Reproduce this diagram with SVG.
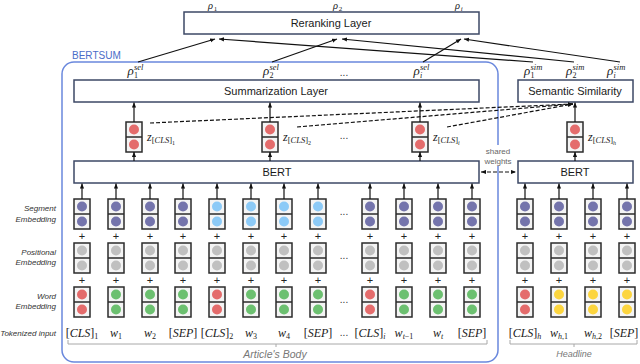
<svg xmlns="http://www.w3.org/2000/svg" width="640" height="364" viewBox="0 0 640 364">
<style>
.box{fill:#fff;stroke:#3d4866;stroke-width:1.5}
.lbl{font-family:"Liberation Sans",Arial,sans-serif;font-size:11px;fill:#1a1a1a;text-anchor:middle}
.side{font-family:"Liberation Sans",Arial,sans-serif;font-size:8px;font-style:italic;fill:#333;text-anchor:end}
.m{font-family:"Liberation Serif","Times New Roman",serif;font-style:italic;fill:#1a1a1a}
.u{font-style:normal}
.tok{font-size:12px;text-anchor:middle}
.ln{stroke:#111;stroke-width:1.2;fill:none}
.dash{stroke:#111;stroke-width:1.2;stroke-dasharray:4 2;fill:none}
.plus{font-family:"Liberation Sans",Arial,sans-serif;font-size:11px;fill:#222;text-anchor:middle}
.dots{font-family:"Liberation Sans",Arial,sans-serif;font-size:10px;fill:#333;text-anchor:middle}
.brace{stroke:#a8a8a8;stroke-width:1;fill:none}
.cap{font-family:"Liberation Sans",Arial,sans-serif;font-style:italic;fill:#777;text-anchor:middle}
</style>
<defs>
<marker id="ah" viewBox="0 0 6 6" refX="6" refY="3" markerWidth="5" markerHeight="5" orient="auto-start-reverse" markerUnits="userSpaceOnUse"><path d="M0,0.5 L6,3 L0,5.5 z" fill="#111"/></marker>
<g id="emb"><rect x="-8" y="0" width="16" height="30" fill="#f4f4f4" stroke="#2b2b2b" stroke-width="1.5"/><line x1="-8" y1="15" x2="8" y2="15" stroke="#2b2b2b" stroke-width="1.5"/><circle cx="0" cy="7.5" r="5"/><circle cx="0" cy="22.5" r="5"/></g>
</defs>
<rect width="640" height="364" fill="#fff"/>

<g id="bertsum">
<rect x="62" y="62" width="436" height="300" rx="12" fill="none" stroke="#6a88dd" stroke-width="1.5"/>
<text x="72" y="59" font-family="Liberation Sans, Arial, sans-serif" font-size="10" fill="#4a6cc8">BERTSUM</text>
</g>

<g id="reranking"><rect class="box" x="184" y="12" width="295" height="22"/><text class="lbl" x="331" y="27">Reranking Layer</text></g>
<g id="summarization"><rect class="box" x="74" y="80" width="405" height="22"/><text class="lbl" x="276" y="95">Summarization Layer</text></g>
<g id="semsim"><rect class="box" x="518" y="80" width="115" height="22"/><text class="lbl" x="575" y="95">Semantic Similarity</text></g>
<g id="bert"><rect class="box" x="74" y="161" width="405" height="22"/><text class="lbl" x="277" y="176">BERT</text></g>
<g id="bert-h"><rect class="box" x="518" y="161" width="115" height="22"/><text class="lbl" x="575" y="176">BERT</text></g>

<g id="shared-weights">
<rect x="484" y="145" width="29" height="21" fill="#fff"/>
<text x="498" y="154" font-family="Liberation Sans, Arial, sans-serif" font-size="8" fill="#666" text-anchor="middle">shared</text>
<text x="498" y="164" font-family="Liberation Sans, Arial, sans-serif" font-size="8" fill="#666" text-anchor="middle">weights</text>
</g>

<g id="rho-top">
<text class="m" x="208" y="9" font-size="10.5">ρ</text><text class="m u" x="213.8" y="10.5" font-size="7">1</text>
<text class="m" x="333" y="9" font-size="10.5">ρ</text><text class="m u" x="338.8" y="10.5" font-size="7">2</text>
<text class="m" x="455" y="9" font-size="10.5">ρ</text><text class="m" x="460.8" y="10.5" font-size="7">i</text>
</g>
<g id="rho-sel">
<text class="m" x="127.5" y="74.5" font-size="13">ρ</text><text class="m" x="134" y="70" font-size="8.5">sel</text><text class="m u" x="134" y="78" font-size="8">1</text>
<text class="m" x="263" y="74.5" font-size="13">ρ</text><text class="m" x="269.5" y="70" font-size="8.5">sel</text><text class="m u" x="269.5" y="78" font-size="8">2</text>
<text class="m" x="413.5" y="74.5" font-size="13">ρ</text><text class="m" x="420" y="70" font-size="8.5">sel</text><text class="m" x="420" y="78" font-size="8">i</text>
<text class="dots" x="344" y="76">...</text>
</g>
<g id="rho-sim">
<text class="m" x="524" y="74.5" font-size="13">ρ</text><text class="m" x="530.5" y="70" font-size="8.5">sim</text><text class="m u" x="530.5" y="78" font-size="8">1</text>
<text class="m" x="566" y="74.5" font-size="13">ρ</text><text class="m" x="572.5" y="70" font-size="8.5">sim</text><text class="m u" x="572.5" y="78" font-size="8">2</text>
<text class="m" x="607" y="74.5" font-size="13">ρ</text><text class="m" x="613.5" y="70" font-size="8.5">sim</text><text class="m" x="613.5" y="78" font-size="8">i</text>
</g>

<g id="z-vectors">
<use href="#emb" x="134" y="122" fill="#e46c6c"/>
<use href="#emb" x="270" y="122" fill="#e46c6c"/>
<use href="#emb" x="420" y="122" fill="#e46c6c"/>
<use href="#emb" x="575" y="122" fill="#e46c6c"/>
<text class="m" x="147" y="141" font-size="12">z<tspan font-size="8.5" dy="2"><tspan class="u">[</tspan>CLS<tspan class="u">]</tspan></tspan><tspan class="u" font-size="6" dy="2">1</tspan></text>
<text class="m" x="283" y="141" font-size="12">z<tspan font-size="8.5" dy="2"><tspan class="u">[</tspan>CLS<tspan class="u">]</tspan></tspan><tspan class="u" font-size="6" dy="2">2</tspan></text>
<text class="m" x="433" y="141" font-size="12">z<tspan font-size="8.5" dy="2"><tspan class="u">[</tspan>CLS<tspan class="u">]</tspan></tspan><tspan font-size="6" dy="2">i</tspan></text>
<text class="m" x="588" y="141" font-size="12">z<tspan font-size="8.5" dy="2"><tspan class="u">[</tspan>CLS<tspan class="u">]</tspan></tspan><tspan font-size="6" dy="2">h</tspan></text>
<text class="dots" x="344" y="139">...</text>
</g>

<g id="segment-embedding">
<use href="#emb" x="82" y="199" fill="#7474ac"/><use href="#emb" x="116" y="199" fill="#7474ac"/><use href="#emb" x="150" y="199" fill="#7474ac"/><use href="#emb" x="183" y="199" fill="#7474ac"/>
<use href="#emb" x="217" y="199" fill="#8ccaf7"/><use href="#emb" x="251" y="199" fill="#8ccaf7"/><use href="#emb" x="284" y="199" fill="#8ccaf7"/><use href="#emb" x="318" y="199" fill="#8ccaf7"/>
<use href="#emb" x="370" y="199" fill="#7474ac"/><use href="#emb" x="404" y="199" fill="#7474ac"/><use href="#emb" x="438" y="199" fill="#7474ac"/><use href="#emb" x="472" y="199" fill="#7474ac"/>
<use href="#emb" x="525" y="199" fill="#7474ac"/><use href="#emb" x="559" y="199" fill="#7474ac"/><use href="#emb" x="593" y="199" fill="#7474ac"/><use href="#emb" x="627" y="199" fill="#7474ac"/>
<text class="dots" x="344" y="215">...</text>
</g>
<g id="positional-embedding" fill="#c0c0c0">
<use href="#emb" x="82" y="243"/><use href="#emb" x="116" y="243"/><use href="#emb" x="150" y="243"/><use href="#emb" x="183" y="243"/>
<use href="#emb" x="217" y="243"/><use href="#emb" x="251" y="243"/><use href="#emb" x="284" y="243"/><use href="#emb" x="318" y="243"/>
<use href="#emb" x="370" y="243"/><use href="#emb" x="404" y="243"/><use href="#emb" x="438" y="243"/><use href="#emb" x="472" y="243"/>
<use href="#emb" x="525" y="243"/><use href="#emb" x="559" y="243"/><use href="#emb" x="593" y="243"/><use href="#emb" x="627" y="243"/>
<text class="dots" x="344" y="259">...</text>
</g>
<g id="word-embedding">
<use href="#emb" x="82" y="287" fill="#e46c6c"/><use href="#emb" x="116" y="287" fill="#6cc070"/><use href="#emb" x="150" y="287" fill="#6cc070"/><use href="#emb" x="183" y="287" fill="#6cc070"/>
<use href="#emb" x="217" y="287" fill="#e46c6c"/><use href="#emb" x="251" y="287" fill="#6cc070"/><use href="#emb" x="284" y="287" fill="#6cc070"/><use href="#emb" x="318" y="287" fill="#6cc070"/>
<use href="#emb" x="370" y="287" fill="#e46c6c"/><use href="#emb" x="404" y="287" fill="#6cc070"/><use href="#emb" x="438" y="287" fill="#6cc070"/><use href="#emb" x="472" y="287" fill="#6cc070"/>
<use href="#emb" x="525" y="287" fill="#e46c6c"/><use href="#emb" x="559" y="287" fill="#fcd53f"/><use href="#emb" x="593" y="287" fill="#fcd53f"/><use href="#emb" x="627" y="287" fill="#fcd53f"/>
<text class="dots" x="344" y="303">...</text>
</g>

<g id="plus-signs">
<text class="plus" x="82" y="240">+</text><text class="plus" x="116" y="240">+</text><text class="plus" x="150" y="240">+</text><text class="plus" x="183" y="240">+</text>
<text class="plus" x="217" y="240">+</text><text class="plus" x="251" y="240">+</text><text class="plus" x="284" y="240">+</text><text class="plus" x="318" y="240">+</text>
<text class="plus" x="370" y="240">+</text><text class="plus" x="404" y="240">+</text><text class="plus" x="438" y="240">+</text><text class="plus" x="472" y="240">+</text>
<text class="plus" x="525" y="240">+</text><text class="plus" x="559" y="240">+</text><text class="plus" x="593" y="240">+</text><text class="plus" x="627" y="240">+</text>
<text class="plus" x="82" y="283.5">+</text><text class="plus" x="116" y="283.5">+</text><text class="plus" x="150" y="283.5">+</text><text class="plus" x="183" y="283.5">+</text>
<text class="plus" x="217" y="283.5">+</text><text class="plus" x="251" y="283.5">+</text><text class="plus" x="284" y="283.5">+</text><text class="plus" x="318" y="283.5">+</text>
<text class="plus" x="370" y="283.5">+</text><text class="plus" x="404" y="283.5">+</text><text class="plus" x="438" y="283.5">+</text><text class="plus" x="472" y="283.5">+</text>
<text class="plus" x="525" y="283.5">+</text><text class="plus" x="559" y="283.5">+</text><text class="plus" x="593" y="283.5">+</text><text class="plus" x="627" y="283.5">+</text>
</g>

<g id="row-labels">
<text class="side" x="56" y="211">Segment</text><text class="side" x="56" y="221.5">Embedding</text>
<text class="side" x="56" y="254.5">Positional</text><text class="side" x="56" y="265">Embedding</text>
<text class="side" x="56" y="298.5">Word</text><text class="side" x="56" y="309">Embedding</text>
<text class="side" x="56" y="336">Tokenized input</text>
</g>

<g id="tokens">
<text class="m tok" x="82" y="337"><tspan class="u">[</tspan>CLS<tspan class="u">]</tspan><tspan class="u" font-size="8" dy="2">1</tspan></text>
<text class="m tok" x="116" y="337">w<tspan class="u" font-size="8" dy="2">1</tspan></text>
<text class="m tok" x="150" y="337">w<tspan class="u" font-size="8" dy="2">2</tspan></text>
<text class="m tok" x="183" y="337"><tspan class="u">[</tspan>SEP<tspan class="u">]</tspan></text>
<text class="m tok" x="217" y="337"><tspan class="u">[</tspan>CLS<tspan class="u">]</tspan><tspan class="u" font-size="8" dy="2">2</tspan></text>
<text class="m tok" x="251" y="337">w<tspan class="u" font-size="8" dy="2">3</tspan></text>
<text class="m tok" x="284" y="337">w<tspan class="u" font-size="8" dy="2">4</tspan></text>
<text class="m tok" x="318" y="337"><tspan class="u">[</tspan>SEP<tspan class="u">]</tspan></text>
<text class="dots" x="344" y="336">...</text>
<text class="m tok" x="370" y="337"><tspan class="u">[</tspan>CLS<tspan class="u">]</tspan><tspan font-size="8" dy="2">i</tspan></text>
<text class="m tok" x="404" y="337">w<tspan font-size="8" dy="2">t<tspan class="u">−1</tspan></tspan></text>
<text class="m tok" x="438" y="337">w<tspan font-size="8" dy="2">t</tspan></text>
<text class="m tok" x="472" y="337"><tspan class="u">[</tspan>SEP<tspan class="u">]</tspan></text>
<text class="m tok" x="525" y="337"><tspan class="u">[</tspan>CLS<tspan class="u">]</tspan><tspan font-size="8" dy="2">h</tspan></text>
<text class="m tok" x="559" y="337">w<tspan font-size="8" dy="2">h<tspan class="u">,1</tspan></tspan></text>
<text class="m tok" x="593" y="337">w<tspan font-size="8" dy="2">h<tspan class="u">,2</tspan></tspan></text>
<text class="m tok" x="624" y="337"><tspan class="u">[</tspan>SEP<tspan class="u">]</tspan></text>
</g>

<g id="braces">
<path class="brace" d="M68,340 L68,344 L487,344 L487,340 M276,344 L276,347"/>
<text class="cap" x="275" y="358" font-size="10.5">Article's Body</text>
<path class="brace" d="M510,340 L510,344 L637,344 L637,340 M574,344 L574,347"/>
<text class="cap" x="574" y="357" font-size="9">Headline</text>
</g>

<g id="connectors">
<g class="ln" marker-end="url(#ah)">
<line x1="82" y1="199" x2="82" y2="183.5"/><line x1="116" y1="199" x2="116" y2="183.5"/><line x1="150" y1="199" x2="150" y2="183.5"/><line x1="183" y1="199" x2="183" y2="183.5"/>
<line x1="217" y1="199" x2="217" y2="183.5"/><line x1="251" y1="199" x2="251" y2="183.5"/><line x1="284" y1="199" x2="284" y2="183.5"/><line x1="318" y1="199" x2="318" y2="183.5"/>
<line x1="370" y1="199" x2="370" y2="183.5"/><line x1="404" y1="199" x2="404" y2="183.5"/><line x1="438" y1="199" x2="438" y2="183.5"/><line x1="472" y1="199" x2="472" y2="183.5"/>
<line x1="525" y1="199" x2="525" y2="183.5"/><line x1="559" y1="199" x2="559" y2="183.5"/><line x1="593" y1="199" x2="593" y2="183.5"/><line x1="627" y1="199" x2="627" y2="183.5"/>
<line x1="134" y1="161" x2="134" y2="152"/><line x1="270" y1="161" x2="270" y2="152"/><line x1="420" y1="161" x2="420" y2="152"/><line x1="575" y1="161" x2="575" y2="152"/>
<line x1="134" y1="122" x2="134" y2="102.5"/><line x1="270" y1="122" x2="270" y2="102.5"/><line x1="420" y1="122" x2="420" y2="102.5"/><line x1="575" y1="122" x2="575" y2="102.5"/>
<line x1="138" y1="62" x2="215" y2="39"/>
<line x1="272" y1="62" x2="337" y2="39"/>
<line x1="423" y1="62" x2="461" y2="39"/>
<line x1="533" y1="62" x2="219" y2="39"/>
<line x1="574" y1="62" x2="342" y2="39"/>
<line x1="620" y1="62" x2="464" y2="39"/>
</g>
<g class="dash" marker-end="url(#ah)">
<line x1="150" y1="123" x2="573" y2="104"/>
<line x1="297" y1="127" x2="573" y2="104"/>
<line x1="447" y1="127" x2="573" y2="104"/>
</g>
<line class="dash" x1="481" y1="172" x2="516" y2="172" marker-start="url(#ah)" marker-end="url(#ah)"/>
</g>
</svg>
